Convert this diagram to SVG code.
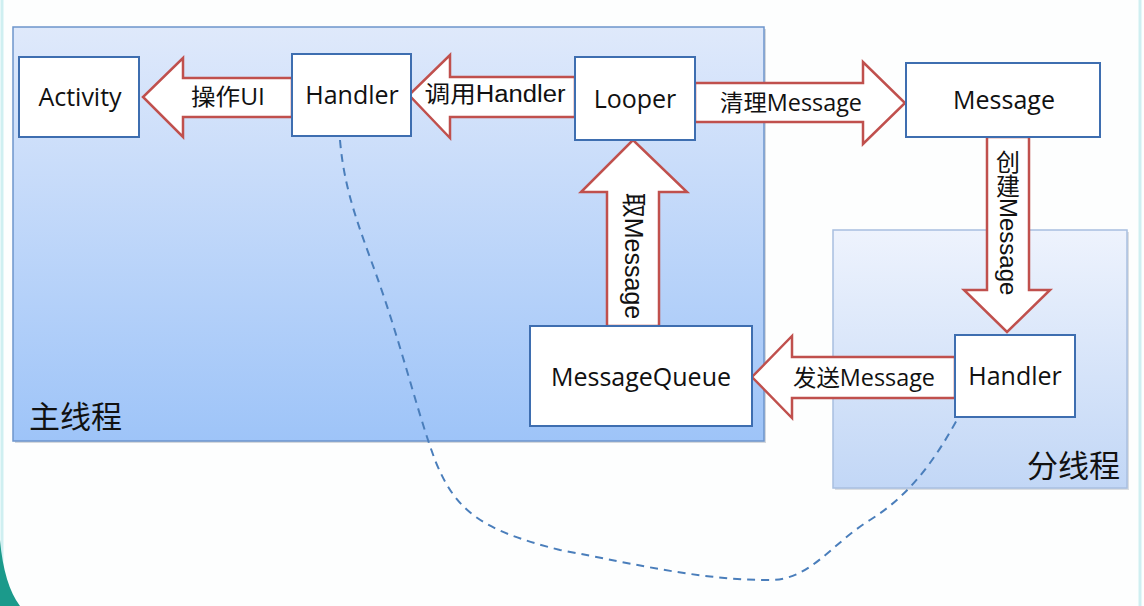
<svg xmlns="http://www.w3.org/2000/svg" width="1144" height="606" viewBox="0 0 1144 606">
<defs>
<linearGradient id="gMain" x1="0" y1="0" x2="0" y2="1">
<stop offset="0" stop-color="#dfe9fb"/>
<stop offset="1" stop-color="#9ec4f8"/>
</linearGradient>
<linearGradient id="gSub" x1="0" y1="0" x2="0" y2="1">
<stop offset="0" stop-color="#eef3fd"/>
<stop offset="1" stop-color="#c2d7f6"/>
</linearGradient>
<style>
.node{fill:#ffffff;stroke:#3e6eb0;stroke-width:2}
.arr{fill:#ffffff;stroke:#c0504d;stroke-width:2.5;stroke-linejoin:miter}
.t{font-family:"Open Sans","Noto Sans",sans-serif;font-size:25px;fill:#111;text-anchor:middle}
.lab{font-family:"Open Sans","Noto Sans CJK SC",sans-serif;font-size:23px;fill:#111;text-anchor:middle}
.cjk{font-family:"Noto Sans CJK SC",sans-serif}
.arial{font-family:"Liberation Sans","Noto Sans CJK SC",sans-serif}
.title{font-family:"Noto Sans CJK SC",sans-serif;font-size:31px;fill:#111}
</style>
</defs>
<rect x="0" y="0" width="1144" height="606" fill="#fdfefe"/>
<line x1="2" y1="0" x2="2" y2="606" stroke="#cfeff1" stroke-width="3"/>
<line x1="1140" y1="0" x2="1140" y2="606" stroke="#cfeff1" stroke-width="3"/>
<path d="M0,540 Q4,585 20,606 L0,606 Z" fill="#1b9a8b"/>

<g id="mainThread">
<rect x="15" y="29" width="751" height="414" fill="#b9bec6" opacity="0.6"/>
<rect x="13" y="27" width="751" height="414" fill="url(#gMain)" stroke="#6d95cc" stroke-width="1.5"/>
<text x="29" y="428" class="title">主线程</text>
</g>
<g id="subThread">
<rect x="835" y="232" width="294" height="258" fill="#c4c8ce" opacity="0.6"/>
<rect x="833" y="230" width="294" height="258" fill="url(#gSub)" stroke="#a8bfe0" stroke-width="1.5"/>
<text x="1027" y="477" class="title">分线程</text>
</g>

<g id="connectors">
<path d="M340,140 C345,200 365,240 385,300 C405,360 420,420 435,460 C455,510 480,530 560,550 C640,565 700,580 770,580 C810,580 830,545 870,520 C910,495 935,460 958,418" fill="none" stroke="#4a7ebb" stroke-width="2" stroke-dasharray="8,6"/>
<path class="arr" d="M292,78 L183,78 L183,58 L143,97 L183,137 L183,117 L292,117 Z"/>
<text x="228" y="105" class="lab" textLength="74" lengthAdjust="spacingAndGlyphs"><tspan class="cjk">操作</tspan>UI</text>
<path class="arr" d="M575,77 L450,77 L450,55 L409,95 L450,138 L450,117 L575,117 Z"/>
<text x="495" y="102" class="lab arial" textLength="141" lengthAdjust="spacingAndGlyphs"><tspan class="cjk">调用</tspan>Handler</text>
<path class="arr" d="M695,83 L863,83 L863,62 L905,103 L863,144 L863,122 L695,122 Z"/>
<text x="791" y="111" class="lab" textLength="142" lengthAdjust="spacingAndGlyphs"><tspan class="cjk">清理</tspan>Message</text>
<path class="arr" d="M607,326 L607,192 L581,192 L633,140 L687,192 L659,192 L659,326 Z"/>
<text transform="translate(633,256) rotate(90)" x="0" y="8" class="lab arial" style="font-size:25px"><tspan class="cjk">取</tspan>Message</text>
<path class="arr" d="M987,137 L987,290 L964,290 L1007,332 L1050,290 L1029,290 L1029,137 Z"/>
<text x="1008" y="150" class="lab arial" style="writing-mode:vertical-rl;text-anchor:start;font-size:24px"><tspan class="cjk">创建</tspan>Message</text>
<path class="arr" d="M955,357 L792,357 L792,336 L752,377 L792,418 L792,398 L955,398 Z"/>
<text x="864" y="386" class="lab" textLength="142" lengthAdjust="spacingAndGlyphs"><tspan class="cjk">发送</tspan>Message</text>
</g>

<g id="activity"><rect class="node" x="19" y="57" width="120" height="80"/><text x="80" y="106" class="t">Activity</text></g>
<g id="handler1"><rect class="node" x="292" y="54" width="119" height="82"/><text x="352" y="104" class="t">Handler</text></g>
<g id="looper"><rect class="node" x="575" y="57" width="120" height="83"/><text x="635" y="108" class="t">Looper</text></g>
<g id="message"><rect class="node" x="906" y="63" width="194" height="74"/><text x="1004" y="109" class="t">Message</text></g>
<g id="messageQueue"><rect class="node" x="530" y="326" width="222" height="100"/><text x="641" y="386" class="t">MessageQueue</text></g>
<g id="handler2"><rect class="node" x="955" y="335" width="120" height="82"/><text x="1015" y="385" class="t">Handler</text></g>
</svg>
